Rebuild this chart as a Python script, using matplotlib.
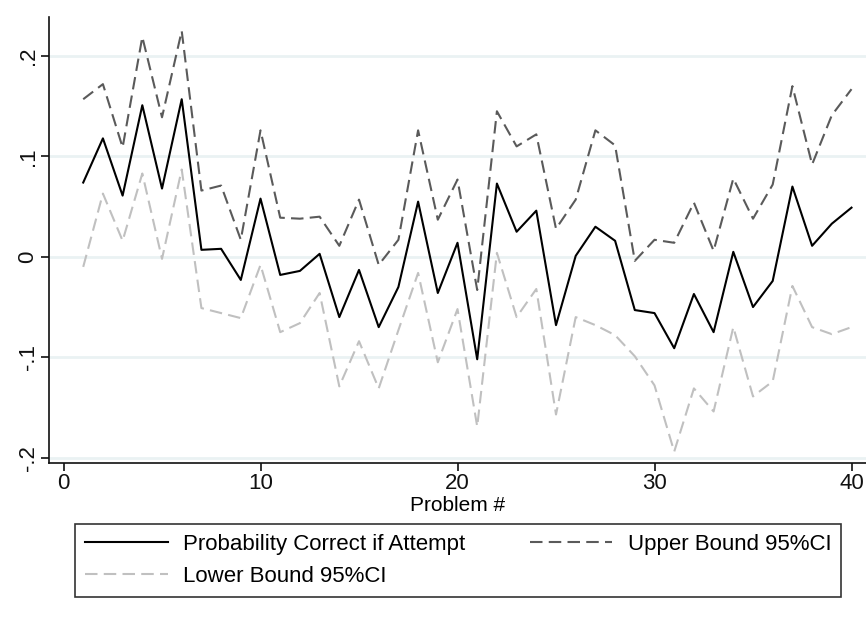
import matplotlib.pyplot as plt
from matplotlib.ticker import FixedLocator

plt.rcParams['font.family'] = ['Liberation Sans', 'DejaVu Sans']

# problem numbers 1..40
problems = list(range(1, 41))

# Probability Correct if Attempt
prob_correct = [0.074, 0.118, 0.061, 0.151, 0.068, 0.157, 0.007, 0.008, -0.023, 0.058,
                -0.018, -0.014, 0.003, -0.060, -0.013, -0.070, -0.030, 0.055, -0.036, 0.014,
                -0.102, 0.073, 0.025, 0.046, -0.068, 0.001, 0.030, 0.016, -0.053, -0.056,
                -0.091, -0.037, -0.075, 0.005, -0.050, -0.024, 0.070, 0.011, 0.033, 0.049]

# Upper Bound 95%CI
upper_ci = [0.157, 0.172, 0.109, 0.219, 0.139, 0.225, 0.066, 0.071, 0.017, 0.126,
            0.039, 0.038, 0.040, 0.011, 0.057, -0.008, 0.017, 0.126, 0.037, 0.077,
            -0.033, 0.145, 0.110, 0.122, 0.028, 0.057, 0.126, 0.111, -0.004, 0.017,
            0.014, 0.054, 0.006, 0.078, 0.038, 0.072, 0.170, 0.092, 0.141, 0.167]

# Lower Bound 95%CI
lower_ci = [-0.010, 0.063, 0.016, 0.083, -0.002, 0.087, -0.051, -0.056, -0.061, -0.008,
            -0.075, -0.066, -0.036, -0.129, -0.084, -0.131, -0.073, -0.016, -0.105, -0.052,
            -0.169, 0.004, -0.060, -0.032, -0.157, -0.060, -0.068, -0.078, -0.099, -0.128,
            -0.194, -0.131, -0.154, -0.070, -0.139, -0.124, -0.029, -0.070, -0.077, -0.070]

y_ticks = [-0.2, -0.1, 0.0, 0.1, 0.2]
y_tick_labels = ['-.2', '-.1', '0', '.1', '.2']
x_ticks = [0, 10, 20, 30, 40]

fig = plt.figure(figsize=(8.66, 6.17), dpi=100)
ax = fig.add_axes([0.0566, 0.2496, 0.9434, 0.7229])

# horizontal gridlines
for yv in y_ticks:
    ax.axhline(yv, color='#eaf2f3', linewidth=2, zorder=0)

dash = (6, 3)
l_prob, = ax.plot(problems, prob_correct, color='black', linewidth=1.5,
                  label='Probability Correct if Attempt', zorder=3)
l_up, = ax.plot(problems, upper_ci, color='#5a5a5a', linewidth=1.5, linestyle=(0, dash),
                label='Upper Bound 95%CI', zorder=2)
l_low, = ax.plot(problems, lower_ci, color='#c0c0c0', linewidth=1.5, linestyle=(0, dash),
                 label='Lower Bound 95%CI', zorder=1)

ax.set_xlim(-0.736, 40.736)
ax.set_ylim(-0.2053, 0.2389)
ax.xaxis.set_major_locator(FixedLocator(x_ticks))
ax.set_yticks(y_ticks)
ax.set_yticklabels(y_tick_labels, rotation=90, va='center')

for side in ['top', 'right']:
    ax.spines[side].set_visible(False)
for side in ['left', 'bottom']:
    ax.spines[side].set_linewidth(1.2)
    ax.spines[side].set_color('#111111')

ax.tick_params(axis='both', direction='out', length=6, width=1.2,
               labelsize=16, colors='#111111', pad=1.5)
ax.set_xlabel('Problem #', fontsize=15, labelpad=1)

# row-wise order: Prob, Upper / Lower
leg = ax.legend([l_prob, l_low, l_up],
                ['Probability Correct if Attempt', 'Lower Bound 95%CI', 'Upper Bound 95%CI'],
                loc='upper center', bbox_to_anchor=(0.501, -0.1368), ncol=2,
                fontsize=16, frameon=True, fancybox=False, edgecolor='black',
                handlelength=3.7, handletextpad=0.7, columnspacing=2.9,
                borderpad=0.45, labelspacing=0.5, borderaxespad=0)
leg.get_frame().set_linewidth(1.2)

fig.savefig('out.png', dpi=100)
